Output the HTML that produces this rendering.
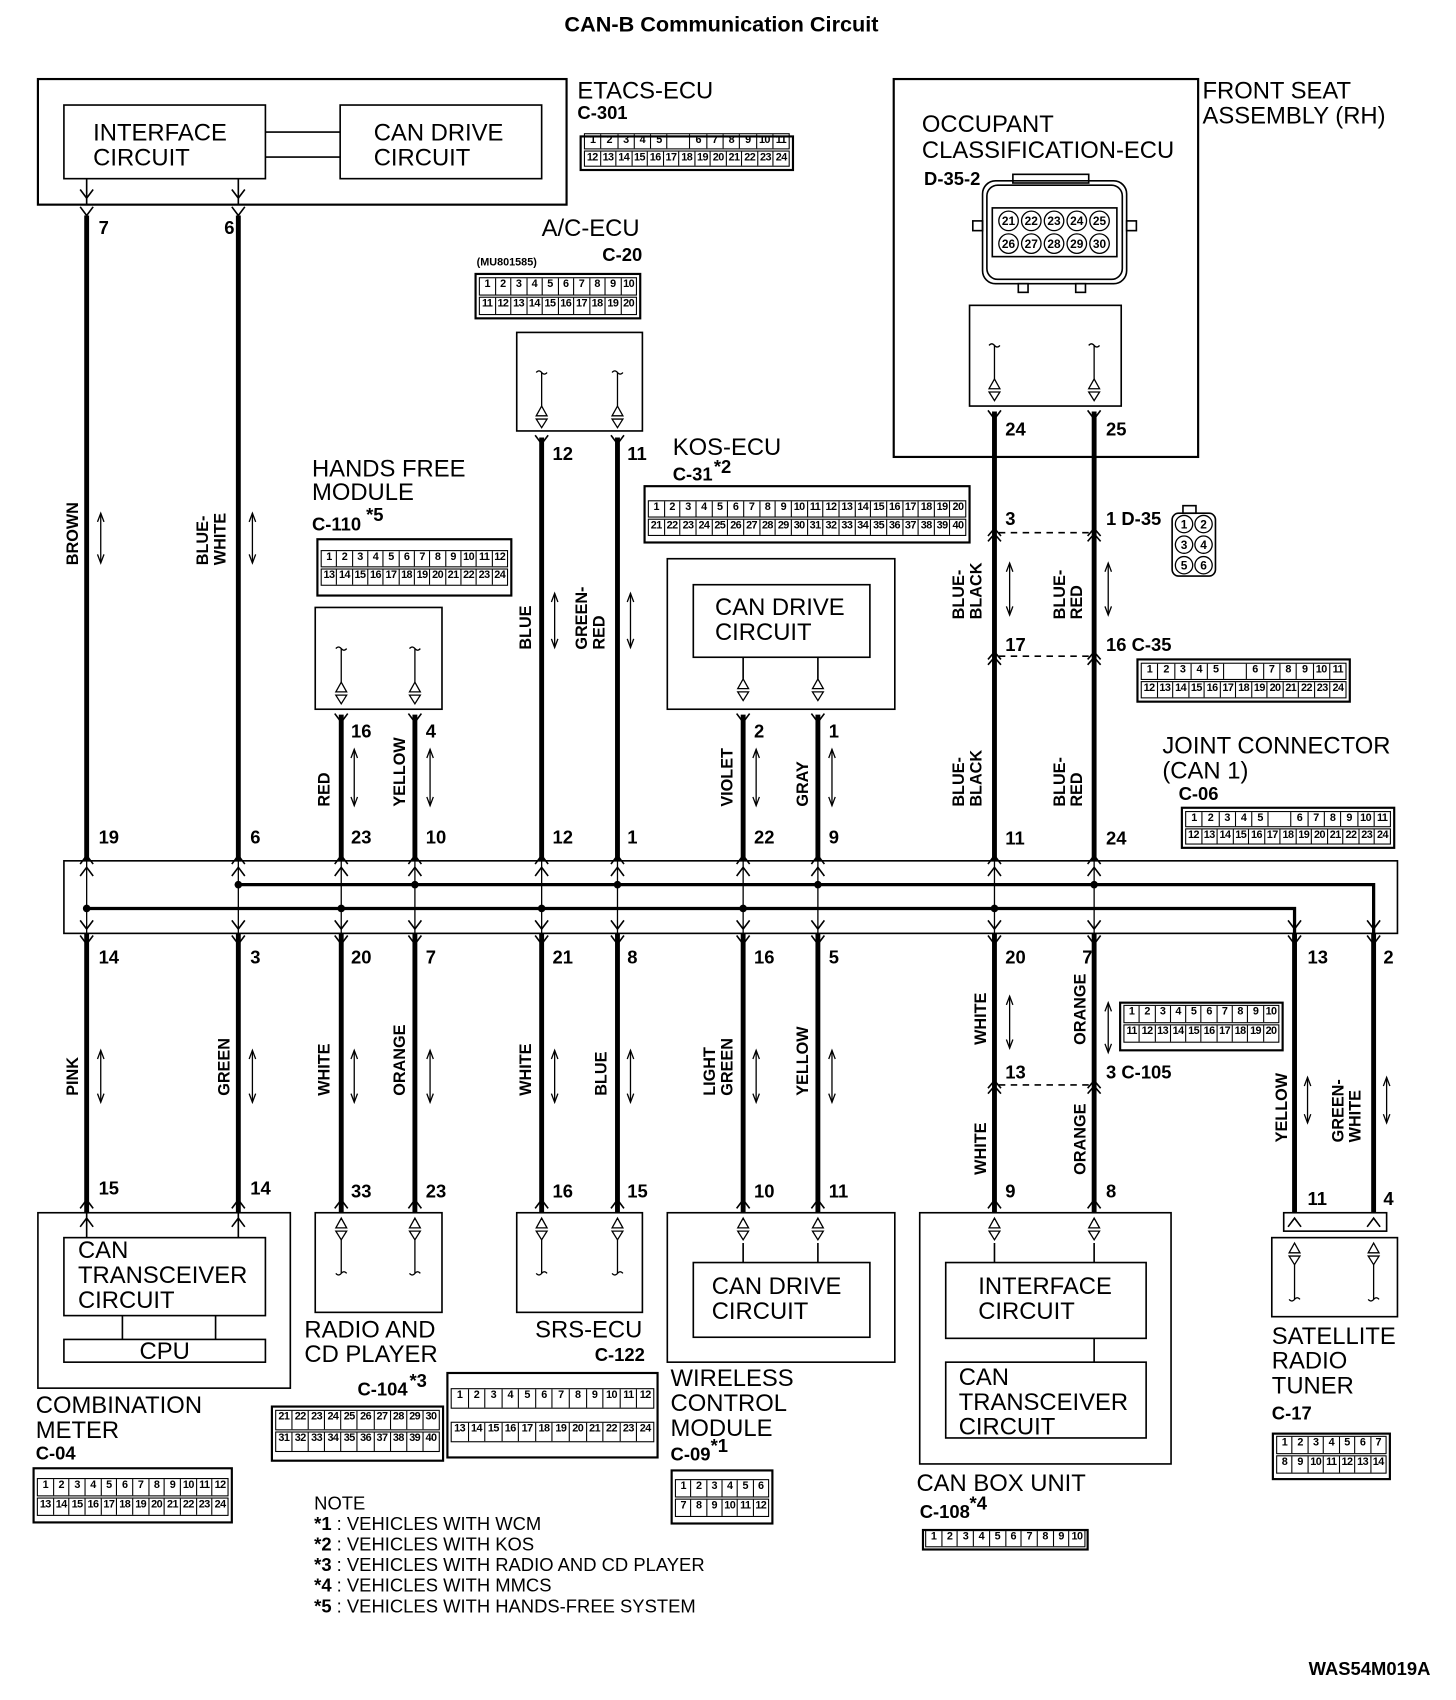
<!DOCTYPE html>
<html><head><meta charset="utf-8"><style>
html,body{margin:0;padding:0;background:#fff;width:1456px;height:1700px;overflow:hidden}
#w{position:absolute;left:0;top:0;width:1344px;height:1570px;transform:scale(1.0833,1.0828);transform-origin:0 0}
svg{position:absolute;left:0;top:0}
.l{font-family:"Liberation Sans",sans-serif;font-size:22px}
.p{font-family:"Liberation Sans Narrow","Liberation Sans",sans-serif;font-weight:bold;font-size:17px}
.c{font-family:"Liberation Sans Narrow","Liberation Sans",sans-serif;font-weight:bold;font-size:15px}
.cn{position:absolute;border:2px solid #000;box-sizing:border-box;padding:2px 2px;display:flex;flex-direction:column;justify-content:flex-end;gap:1px;background:#fff}
.r{display:flex;border:1px solid #000;flex:0 0 auto}
.r span{flex:1;border-right:1px solid #000;font:bold 10px "Liberation Sans Narrow","Liberation Sans",sans-serif;text-align:center;overflow:hidden;white-space:nowrap;letter-spacing:-0.5px}
.r span:last-child{border-right:none}
.r span.g{flex:1.4}
</style></head><body><div id="w">
<svg width="1344" height="1570" viewBox="0 0 1344 1570">
<g fill="none" stroke="#000" stroke-width="1.5">
<!-- ETACS -->
<rect x="35" y="73" width="488" height="116" stroke-width="2"/>
<rect x="59" y="97" width="186" height="68"/>
<rect x="314" y="97" width="186" height="68"/>
<path d="M245 122H314M245 145H314"/>
<path d="M80 165V189M220 165V189"/>
<path d="M74 175L80 183L86 175M214 175L220 183L226 175M74 191L80 199L86 191M214 191L220 199L226 191"/>
<!-- occupant -->
<rect x="825" y="73" width="281" height="349" stroke-width="2"/>
<rect x="895" y="282" width="140" height="93"/>
<!-- A/C -->
<rect x="477" y="307" width="116" height="91"/>
<!-- hands free -->
<rect x="291" y="561" width="117" height="94"/>
<!-- KOS -->
<rect x="616" y="516" width="210" height="139"/>
<rect x="640" y="540" width="163" height="67"/>
<path d="M686 607V627M755 607V627"/>
<!-- bus box -->
<rect x="59" y="795" width="1231" height="67"/>
<!-- lower components -->
<rect x="35" y="1120" width="233" height="162"/>
<rect x="59" y="1143" width="186" height="72"/>
<rect x="59" y="1237" width="186" height="21"/>
<path d="M113 1215V1237M199 1215V1237M80 1120V1143M220 1120V1143"/>
<rect x="291" y="1120" width="117" height="92"/>
<rect x="477" y="1120" width="116" height="92"/>
<rect x="616" y="1120" width="210" height="138"/>
<rect x="640" y="1166" width="163" height="69"/>
<path d="M686 1148V1166M755 1148V1166"/>
<rect x="849" y="1120" width="232" height="232"/>
<rect x="873" y="1166" width="185" height="70"/>
<rect x="873" y="1258" width="185" height="70"/>
<path d="M918 1148V1166M1010 1148V1166M1010 1236V1258"/>
<rect x="1185" y="1120" width="95" height="17"/>
<rect x="1174" y="1143" width="116" height="73"/>
</g>
<!-- thick wires -->
<g stroke="#000" stroke-width="4.5" fill="none">
<path d="M80 199V795M220 199V795M315 660V795M383 660V795M500 404V795M570 404V795M686 660V795M755 660V795M918 380V795M1010 380V795"/>
<path d="M80 862V1120M220 862V1120M315 862V1120M383 862V1120M500 862V1120M570 862V1120M686 862V1120M755 862V1120M918 862V1120M1010 862V1120M1195 862V1120M1268 862V1120"/>
<path d="M220 817H1268V862M80 839H1195V862" stroke-width="3"/>
</g>
<!-- thin inside bus -->
<g stroke="#000" stroke-width="1.2" fill="none">
<path d="M80 795V862M220 795V862M315 795V862M383 795V862M500 795V862M570 795V862M686 795V862M755 795V862M918 795V862M1010 795V862"/>
</g>
<g fill="#000">
<circle cx="80" cy="839" r="3.5"/><circle cx="315" cy="839" r="3.5"/><circle cx="500" cy="839" r="3.5"/><circle cx="686" cy="839" r="3.5"/><circle cx="918" cy="839" r="3.5"/>
<circle cx="220" cy="817" r="3.5"/><circle cx="383" cy="817" r="3.5"/><circle cx="570" cy="817" r="3.5"/><circle cx="755" cy="817" r="3.5"/><circle cx="1010" cy="817" r="3.5"/>
</g>
<!-- chevrons -->
<g stroke="#000" stroke-width="1.5" fill="none">
<!-- top of bus ^ outside and inside -->
<path d="M74 798L80 790L86 798M214 798L220 790L226 798M309 798L315 790L321 798M377 798L383 790L389 798M494 798L500 790L506 798M564 798L570 790L576 798M680 798L686 790L692 798M749 798L755 790L761 798M912 798L918 790L924 798M1004 798L1010 790L1016 798"/>
<path d="M74 809L80 801L86 809M214 809L220 801L226 809M309 809L315 801L321 809M377 809L383 801L389 809M494 809L500 801L506 809M564 809L570 801L576 809M680 809L686 801L692 809M749 809L755 801L761 809M912 809L918 801L924 809M1004 809L1010 801L1016 809"/>
<!-- bottom of bus V -->
<path d="M74 850L80 858L86 850M214 850L220 858L226 850M309 850L315 858L321 850M377 850L383 858L389 850M494 850L500 858L506 850M564 850L570 858L576 850M680 850L686 858L692 850M749 850L755 858L761 850M912 850L918 858L924 850M1004 850L1010 858L1016 850M1189 850L1195 858L1201 850M1262 850L1268 858L1274 850"/>
<path d="M74 864L80 872L86 864M214 864L220 872L226 864M309 864L315 872L321 864M377 864L383 872L389 864M494 864L500 872L506 864M564 864L570 872L576 864M680 864L686 872L692 864M749 864L755 872L761 864M912 864L918 872L924 864M1004 864L1010 872L1016 864M1189 864L1195 872L1201 864M1262 864L1268 872L1274 864"/>
<!-- bottoms of upper components Y -->
<path d="M494 402L500 410L506 402M564 402L570 410L576 402M309 659L315 667L321 659M377 659L383 667L389 659M680 659L686 667L692 659M749 659L755 667L761 659M912 379L918 387L924 379M1004 379L1010 387L1016 379"/>
<!-- tops of lower components ^ -->
<path d="M74 1116L80 1108L86 1116M214 1116L220 1108L226 1116M309 1116L315 1108L321 1116M377 1116L383 1108L389 1116M494 1116L500 1108L506 1116M564 1116L570 1108L576 1116M680 1116L686 1108L692 1116M749 1116L755 1108L761 1116M912 1116L918 1108L924 1116M1004 1116L1010 1108L1016 1116"/>
<path d="M74 1133L80 1125L86 1133M214 1133L220 1125L226 1133M1189 1133L1195 1125L1201 1133M1262 1133L1268 1125L1274 1133"/>
<!-- inline connectors -->
<path d="M912 495L918 488L924 495M912 500L918 493L924 500M1004 495L1010 488L1016 495M1004 500L1010 493L1016 500M912 609L918 602L924 609M912 614L918 607L924 614M1004 609L1010 602L1016 609M1004 614L1010 607L1016 614M912 1005L918 998L924 1005M912 1010L918 1003L924 1010M1004 1005L1010 998L1016 1005M1004 1010L1010 1003L1016 1010"/>
<path d="M922 492H1006M922 606H1006M922 1002H1006" stroke-dasharray="6 5"/>
<!-- double arrows -->
<path d="M93 474V520M233 474V520M327 692V744M397 692V744M512 548V598M582 548V598M698 692V744M768 692V744M932 520V568M1023 520V568M93 970V1018M233 970V1018M327 970V1018M397 970V1018M512 970V1018M582 970V1018M698 970V1018M768 970V1018M932 920V968M1023 926V972M1207 995V1037M1280 995V1037" stroke-width="1.2"/>
<path d="M90 482L93 474L96 482M90 512L93 520L96 512M230 482L233 474L236 482M230 512L233 520L236 512M324 700L327 692L330 700M324 736L327 744L330 736M394 700L397 692L400 700M394 736L397 744L400 736M509 556L512 548L515 556M509 590L512 598L515 590M579 556L582 548L585 556M579 590L582 598L585 590M695 700L698 692L701 700M695 736L698 744L701 736M765 700L768 692L771 700M765 736L768 744L771 736M929 528L932 520L935 528M929 560L932 568L935 560M1020 528L1023 520L1026 528M1020 560L1023 568L1026 560M90 978L93 970L96 978M90 1010L93 1018L96 1010M230 978L233 970L236 978M230 1010L233 1018L236 1010M324 978L327 970L330 978M324 1010L327 1018L330 1010M394 978L397 970L400 978M394 1010L397 1018L400 1010M509 978L512 970L515 978M509 1010L512 1018L515 1010M579 978L582 970L585 978M579 1010L582 1018L585 1010M695 978L698 970L701 978M695 1010L698 1018L701 1010M765 978L768 970L771 978M765 1010L768 1018L771 1010M929 928L932 920L935 928M929 960L932 968L935 960M1020 934L1023 926L1026 934M1020 964L1023 972L1026 964M1204 1003L1207 995L1210 1003M1204 1029L1207 1037L1210 1029M1277 1003L1280 995L1283 1003M1277 1029L1280 1037L1283 1029" stroke-width="1.2"/>
<!-- internal signal icons upper (squiggle top, triangles bottom) -->
<path d="M495 344q2.5-3 5 0q2.5 3 5 0M500 344V375M565 344q2.5-3 5 0q2.5 3 5 0M570 344V375M310 599q2.5-3 5 0q2.5 3 5 0M315 599V630M378 599q2.5-3 5 0q2.5 3 5 0M383 599V630M913 319q2.5-3 5 0q2.5 3 5 0M918 319V350M1005 319q2.5-3 5 0q2.5 3 5 0M1010 319V350" stroke-width="1.2"/>
<path d="M495 384L500 375L505 384ZM495 387H505L500 395ZM565 384L570 375L575 384ZM565 387H575L570 395ZM310 639L315 630L320 639ZM310 642H320L315 650ZM378 639L383 630L388 639ZM378 642H388L383 650ZM913 359L918 350L923 359ZM913 362H923L918 370ZM1005 359L1010 350L1015 359ZM1005 362H1015L1010 370ZM681 636L686 627L691 636ZM681 639H691L686 647ZM750 636L755 627L760 636ZM750 639H760L755 647Z" stroke-width="1.2"/>
<!-- lower icons (triangles top, squiggle bottom) -->
<path d="M310 1134L315 1125L320 1134ZM310 1137H320L315 1145ZM378 1134L383 1125L388 1134ZM378 1137H388L383 1145ZM495 1134L500 1125L505 1134ZM495 1137H505L500 1145ZM565 1134L570 1125L575 1134ZM565 1137H575L570 1145ZM681 1134L686 1125L691 1134ZM681 1137H691L686 1145ZM750 1134L755 1125L760 1134ZM750 1137H760L755 1145ZM913 1134L918 1125L923 1134ZM913 1137H923L918 1145ZM1005 1134L1010 1125L1015 1134ZM1005 1137H1015L1010 1145ZM1190 1157L1195 1148L1200 1157ZM1190 1160H1200L1195 1168ZM1263 1157L1268 1148L1273 1157ZM1263 1160H1273L1268 1168Z" stroke-width="1.2"/>
<path d="M315 1145V1176M310 1176q2.5 3 5 0q2.5-3 5 0M383 1145V1176M378 1176q2.5 3 5 0q2.5-3 5 0M500 1145V1176M495 1176q2.5 3 5 0q2.5-3 5 0M570 1145V1176M565 1176q2.5 3 5 0q2.5-3 5 0M1195 1168V1200M1190 1200q2.5 3 5 0q2.5-3 5 0M1268 1168V1200M1263 1200q2.5 3 5 0q2.5-3 5 0" stroke-width="1.2"/>
<!-- D-35-2 connector -->
<rect x="935" y="161" width="70" height="8"/>
<rect x="907" y="167" width="133" height="95" rx="12"/>
<rect x="911" y="171" width="125" height="87" rx="10"/>
<rect x="916" y="192" width="115" height="45"/>
<rect x="898" y="204" width="9" height="9"/><rect x="1040" y="204" width="9" height="9"/>
<rect x="940" y="262" width="9" height="8"/><rect x="993" y="262" width="9" height="8"/>
<!-- D-35 icon -->
<rect x="1092" y="467" width="12" height="7"/>
<rect x="1082" y="474" width="40" height="58" rx="6"/>
</g>
<g fill="none" stroke="#000" stroke-width="1.2">
<circle cx="931" cy="204" r="9"/><circle cx="952" cy="204" r="9"/><circle cx="973" cy="204" r="9"/><circle cx="994" cy="204" r="9"/><circle cx="1015" cy="204" r="9"/>
<circle cx="931" cy="225" r="9"/><circle cx="952" cy="225" r="9"/><circle cx="973" cy="225" r="9"/><circle cx="994" cy="225" r="9"/><circle cx="1015" cy="225" r="9"/>
<circle cx="1093" cy="484" r="8"/><circle cx="1111" cy="484" r="8"/><circle cx="1093" cy="503" r="8"/><circle cx="1111" cy="503" r="8"/><circle cx="1093" cy="522" r="8"/><circle cx="1111" cy="522" r="8"/>
</g>
<g class="c" font-size="11" text-anchor="middle" style="font-size:11px">
<text x="931" y="208">21</text><text x="952" y="208">22</text><text x="973" y="208">23</text><text x="994" y="208">24</text><text x="1015" y="208">25</text>
<text x="931" y="229">26</text><text x="952" y="229">27</text><text x="973" y="229">28</text><text x="994" y="229">29</text><text x="1015" y="229">30</text>
<text x="1093" y="488">1</text><text x="1111" y="488">2</text><text x="1093" y="507">3</text><text x="1111" y="507">4</text><text x="1093" y="526">5</text><text x="1111" y="526">6</text>
</g>
<!-- labels -->
<text x="666" y="29" text-anchor="middle" style="font:bold 20px 'Liberation Sans',sans-serif">CAN-B Communication Circuit</text>
<g class="l">
<text x="86" y="130">INTERFACE</text><text x="86" y="153">CIRCUIT</text>
<text x="345" y="130">CAN DRIVE</text><text x="345" y="153">CIRCUIT</text>
<text x="533" y="91">ETACS-ECU</text>
<text x="500" y="218">A/C-ECU</text>
<text x="1110" y="91">FRONT SEAT</text><text x="1110" y="114">ASSEMBLY (RH)</text>
<text x="851" y="122">OCCUPANT</text><text x="851" y="146">CLASSIFICATION-ECU</text>
<text x="288" y="440">HANDS FREE</text><text x="288" y="462">MODULE</text>
<text x="621" y="420">KOS-ECU</text>
<text x="660" y="568">CAN DRIVE</text><text x="660" y="591">CIRCUIT</text>
<text x="1073" y="696">JOINT CONNECTOR</text><text x="1073" y="719">(CAN 1)</text>
<text x="72" y="1162">CAN</text><text x="72" y="1185">TRANSCEIVER</text><text x="72" y="1208">CIRCUIT</text>
<text x="152" y="1255" text-anchor="middle">CPU</text>
<text x="33" y="1305">COMBINATION</text><text x="33" y="1328">METER</text>
<text x="281" y="1235">RADIO AND</text><text x="281" y="1258">CD PLAYER</text>
<text x="494" y="1235">SRS-ECU</text>
<text x="657" y="1195">CAN DRIVE</text><text x="657" y="1218">CIRCUIT</text>
<text x="619" y="1280">WIRELESS</text><text x="619" y="1303">CONTROL</text><text x="619" y="1326">MODULE</text>
<text x="903" y="1195">INTERFACE</text><text x="903" y="1218">CIRCUIT</text>
<text x="885" y="1279">CAN</text><text x="885" y="1302">TRANSCEIVER</text><text x="885" y="1325">CIRCUIT</text>
<text x="846" y="1377">CAN BOX UNIT</text>
<text x="1174" y="1241">SATELLITE</text><text x="1174" y="1264">RADIO</text><text x="1174" y="1287">TUNER</text>
</g>
<g class="p">
<text x="533" y="110">C-301</text>
<text x="556" y="241">C-20</text>
<text x="440" y="245" style="font-size:10px">(MU801585)</text>
<text x="853" y="171">D-35-2</text>
<text x="288" y="490">C-110</text><text x="338" y="481">*5</text>
<text x="621" y="444">C-31</text><text x="659" y="437">*2</text>
<text x="1088" y="739">C-06</text>
<text x="33" y="1348">C-04</text>
<text x="330" y="1289">C-104</text><text x="378" y="1281">*3</text>
<text x="549" y="1257">C-122</text>
<text x="619" y="1349">C-09</text><text x="656" y="1341">*1</text>
<text x="849" y="1402">C-108</text><text x="895" y="1394">*4</text>
<text x="1174" y="1311">C-17</text>
<!-- pins upper -->
<text x="91" y="216">7</text><text x="207" y="216">6</text>
<text x="510" y="425">12</text><text x="579" y="425">11</text>
<text x="324" y="681">16</text><text x="393" y="681">4</text>
<text x="696" y="681">2</text><text x="765" y="681">1</text>
<text x="928" y="402">24</text><text x="1021" y="402">25</text>
<text x="928" y="485">3</text><text x="1021" y="485">1 D-35</text>
<text x="928" y="601">17</text><text x="1021" y="601">16 C-35</text>
<text x="91" y="779">19</text><text x="231" y="779">6</text><text x="324" y="779">23</text><text x="393" y="779">10</text><text x="510" y="779">12</text><text x="579" y="779">1</text><text x="696" y="779">22</text><text x="765" y="779">9</text><text x="928" y="780">11</text><text x="1021" y="780">24</text>
<!-- pins lower -->
<text x="91" y="890">14</text><text x="231" y="890">3</text><text x="324" y="890">20</text><text x="393" y="890">7</text><text x="510" y="890">21</text><text x="579" y="890">8</text><text x="696" y="890">16</text><text x="765" y="890">5</text><text x="928" y="890">20</text><text x="999" y="890">7</text><text x="1207" y="890">13</text><text x="1277" y="890">2</text>
<text x="928" y="996">13</text><text x="1021" y="996">3 C-105</text>
<text x="91" y="1103">15</text><text x="231" y="1103">14</text><text x="324" y="1106">33</text><text x="393" y="1106">23</text><text x="510" y="1106">16</text><text x="579" y="1106">15</text><text x="696" y="1106">10</text><text x="765" y="1106">11</text><text x="928" y="1106">9</text><text x="1021" y="1106">8</text><text x="1207" y="1113">11</text><text x="1277" y="1113">4</text>
<text x="1208" y="1547">WAS54M019A</text>
</g>
<!-- wire color labels (rotated) -->
<g class="c">
<text transform="translate(72,522) rotate(-90)">BROWN</text>
<text transform="translate(192,522) rotate(-90)">BLUE-</text><text transform="translate(208,522) rotate(-90)">WHITE</text>
<text transform="translate(304,745) rotate(-90)">RED</text>
<text transform="translate(374,745) rotate(-90)">YELLOW</text>
<text transform="translate(490,600) rotate(-90)">BLUE</text>
<text transform="translate(542,600) rotate(-90)">GREEN-</text><text transform="translate(558,600) rotate(-90)">RED</text>
<text transform="translate(676,745) rotate(-90)">VIOLET</text>
<text transform="translate(746,745) rotate(-90)">GRAY</text>
<text transform="translate(890,572) rotate(-90)">BLUE-</text><text transform="translate(906,572) rotate(-90)">BLACK</text>
<text transform="translate(983,572) rotate(-90)">BLUE-</text><text transform="translate(999,572) rotate(-90)">RED</text>
<text transform="translate(890,745) rotate(-90)">BLUE-</text><text transform="translate(906,745) rotate(-90)">BLACK</text>
<text transform="translate(983,745) rotate(-90)">BLUE-</text><text transform="translate(999,745) rotate(-90)">RED</text>
<text transform="translate(72,1012) rotate(-90)">PINK</text>
<text transform="translate(212,1012) rotate(-90)">GREEN</text>
<text transform="translate(304,1012) rotate(-90)">WHITE</text>
<text transform="translate(374,1012) rotate(-90)">ORANGE</text>
<text transform="translate(490,1012) rotate(-90)">WHITE</text>
<text transform="translate(560,1012) rotate(-90)">BLUE</text>
<text transform="translate(660,1012) rotate(-90)">LIGHT</text><text transform="translate(676,1012) rotate(-90)">GREEN</text>
<text transform="translate(746,1012) rotate(-90)">YELLOW</text>
<text transform="translate(910,965) rotate(-90)">WHITE</text>
<text transform="translate(1002,965) rotate(-90)">ORANGE</text>
<text transform="translate(910,1085) rotate(-90)">WHITE</text>
<text transform="translate(1002,1085) rotate(-90)">ORANGE</text>
<text transform="translate(1188,1055) rotate(-90)">YELLOW</text>
<text transform="translate(1240,1055) rotate(-90)">GREEN-</text><text transform="translate(1256,1055) rotate(-90)">WHITE</text>
</g>
<!-- notes -->
<g style="font:17px 'Liberation Sans Narrow','Liberation Sans',sans-serif">
<text x="290" y="1394">NOTE</text>
<text x="290" y="1413"><tspan font-weight="bold">*1</tspan> : VEHICLES WITH WCM</text>
<text x="290" y="1432"><tspan font-weight="bold">*2</tspan> : VEHICLES WITH KOS</text>
<text x="290" y="1451"><tspan font-weight="bold">*3</tspan> : VEHICLES WITH RADIO AND CD PLAYER</text>
<text x="290" y="1470"><tspan font-weight="bold">*4</tspan> : VEHICLES WITH MMCS</text>
<text x="290" y="1489"><tspan font-weight="bold">*5</tspan> : VEHICLES WITH HANDS-FREE SYSTEM</text>
</g>
</svg>

<!-- connectors -->
<div class="cn" style="left:535px;top:125px;width:198px;height:33px">
<div class="r" style="height:13px"><span>1</span><span>2</span><span>3</span><span>4</span><span>5</span><span class="g"></span><span>6</span><span>7</span><span>8</span><span>9</span><span>10</span><span>11</span></div>
<div class="r" style="height:13px"><span>12</span><span>13</span><span>14</span><span>15</span><span>16</span><span>17</span><span>18</span><span>19</span><span>20</span><span>21</span><span>22</span><span>23</span><span>24</span></div></div>

<div class="cn" style="left:438px;top:252px;width:154px;height:43px">
<div class="r" style="height:15px"><span>1</span><span>2</span><span>3</span><span>4</span><span>5</span><span>6</span><span>7</span><span>8</span><span>9</span><span>10</span></div>
<div class="r" style="height:15px"><span>11</span><span>12</span><span>13</span><span>14</span><span>15</span><span>16</span><span>17</span><span>18</span><span>19</span><span>20</span></div></div>

<div class="cn" style="left:292px;top:497px;width:181px;height:54px;justify-content:center">
<div class="r" style="height:14px"><span>1</span><span>2</span><span>3</span><span>4</span><span>5</span><span>6</span><span>7</span><span>8</span><span>9</span><span>10</span><span>11</span><span>12</span></div>
<div class="r" style="height:14px"><span>13</span><span>14</span><span>15</span><span>16</span><span>17</span><span>18</span><span>19</span><span>20</span><span>21</span><span>22</span><span>23</span><span>24</span></div></div>

<div class="cn" style="left:594px;top:448px;width:302px;height:54px">
<div class="r" style="height:14px"><span>1</span><span>2</span><span>3</span><span>4</span><span>5</span><span>6</span><span>7</span><span>8</span><span>9</span><span>10</span><span>11</span><span>12</span><span>13</span><span>14</span><span>15</span><span>16</span><span>17</span><span>18</span><span>19</span><span>20</span></div>
<div class="r" style="height:14px;margin-bottom:3px"><span>21</span><span>22</span><span>23</span><span>24</span><span>25</span><span>26</span><span>27</span><span>28</span><span>29</span><span>30</span><span>31</span><span>32</span><span>33</span><span>34</span><span>35</span><span>36</span><span>37</span><span>38</span><span>39</span><span>40</span></div></div>

<div class="cn" style="left:1049px;top:608px;width:198px;height:41px">
<div class="r" style="height:14px"><span>1</span><span>2</span><span>3</span><span>4</span><span>5</span><span class="g"></span><span>6</span><span>7</span><span>8</span><span>9</span><span>10</span><span>11</span></div>
<div class="r" style="height:14px"><span>12</span><span>13</span><span>14</span><span>15</span><span>16</span><span>17</span><span>18</span><span>19</span><span>20</span><span>21</span><span>22</span><span>23</span><span>24</span></div></div>

<div class="cn" style="left:1090px;top:745px;width:198px;height:39px">
<div class="r" style="height:13px"><span>1</span><span>2</span><span>3</span><span>4</span><span>5</span><span class="g"></span><span>6</span><span>7</span><span>8</span><span>9</span><span>10</span><span>11</span></div>
<div class="r" style="height:13px"><span>12</span><span>13</span><span>14</span><span>15</span><span>16</span><span>17</span><span>18</span><span>19</span><span>20</span><span>21</span><span>22</span><span>23</span><span>24</span></div></div>

<div class="cn" style="left:1033px;top:925px;width:152px;height:46px">
<div class="r" style="height:15px"><span>1</span><span>2</span><span>3</span><span>4</span><span>5</span><span>6</span><span>7</span><span>8</span><span>9</span><span>10</span></div>
<div class="r" style="height:15px;margin-bottom:4px"><span>11</span><span>12</span><span>13</span><span>14</span><span>15</span><span>16</span><span>17</span><span>18</span><span>19</span><span>20</span></div></div>

<div class="cn" style="left:30px;top:1355px;width:185px;height:52px">
<div class="r" style="height:15px"><span>1</span><span>2</span><span>3</span><span>4</span><span>5</span><span>6</span><span>7</span><span>8</span><span>9</span><span>10</span><span>11</span><span>12</span></div>
<div class="r" style="height:15px;margin-bottom:3px"><span>13</span><span>14</span><span>15</span><span>16</span><span>17</span><span>18</span><span>19</span><span>20</span><span>21</span><span>22</span><span>23</span><span>24</span></div></div>

<div class="cn" style="left:250px;top:1298px;width:160px;height:52px">
<div class="r" style="height:17px"><span>21</span><span>22</span><span>23</span><span>24</span><span>25</span><span>26</span><span>27</span><span>28</span><span>29</span><span>30</span></div>
<div class="r" style="height:17px;margin-bottom:5px"><span>31</span><span>32</span><span>33</span><span>34</span><span>35</span><span>36</span><span>37</span><span>38</span><span>39</span><span>40</span></div></div>

<div class="cn" style="left:412px;top:1267px;width:196px;height:80px;justify-content:center;gap:12px">
<div class="r" style="height:17px"><span>1</span><span>2</span><span>3</span><span>4</span><span>5</span><span>6</span><span>7</span><span>8</span><span>9</span><span>10</span><span>11</span><span>12</span></div>
<div class="r" style="height:17px"><span>13</span><span>14</span><span>15</span><span>16</span><span>17</span><span>18</span><span>19</span><span>20</span><span>21</span><span>22</span><span>23</span><span>24</span></div></div>

<div class="cn" style="left:619px;top:1357px;width:95px;height:51px">
<div class="r" style="height:15px"><span>1</span><span>2</span><span>3</span><span>4</span><span>5</span><span>6</span></div>
<div class="r" style="height:15px;margin-bottom:3px"><span>7</span><span>8</span><span>9</span><span>10</span><span>11</span><span>12</span></div></div>

<div class="cn" style="left:851px;top:1412px;width:154px;height:20px;padding:1px">
<div class="r" style="height:14px"><span>1</span><span>2</span><span>3</span><span>4</span><span>5</span><span>6</span><span>7</span><span>8</span><span>9</span><span>10</span></div></div>

<div class="cn" style="left:1174px;top:1323px;width:110px;height:44px">
<div class="r" style="height:15px"><span>1</span><span>2</span><span>3</span><span>4</span><span>5</span><span>6</span><span>7</span></div>
<div class="r" style="height:15px;margin-bottom:2px"><span>8</span><span>9</span><span>10</span><span>11</span><span>12</span><span>13</span><span>14</span></div></div>
</div></body></html>
